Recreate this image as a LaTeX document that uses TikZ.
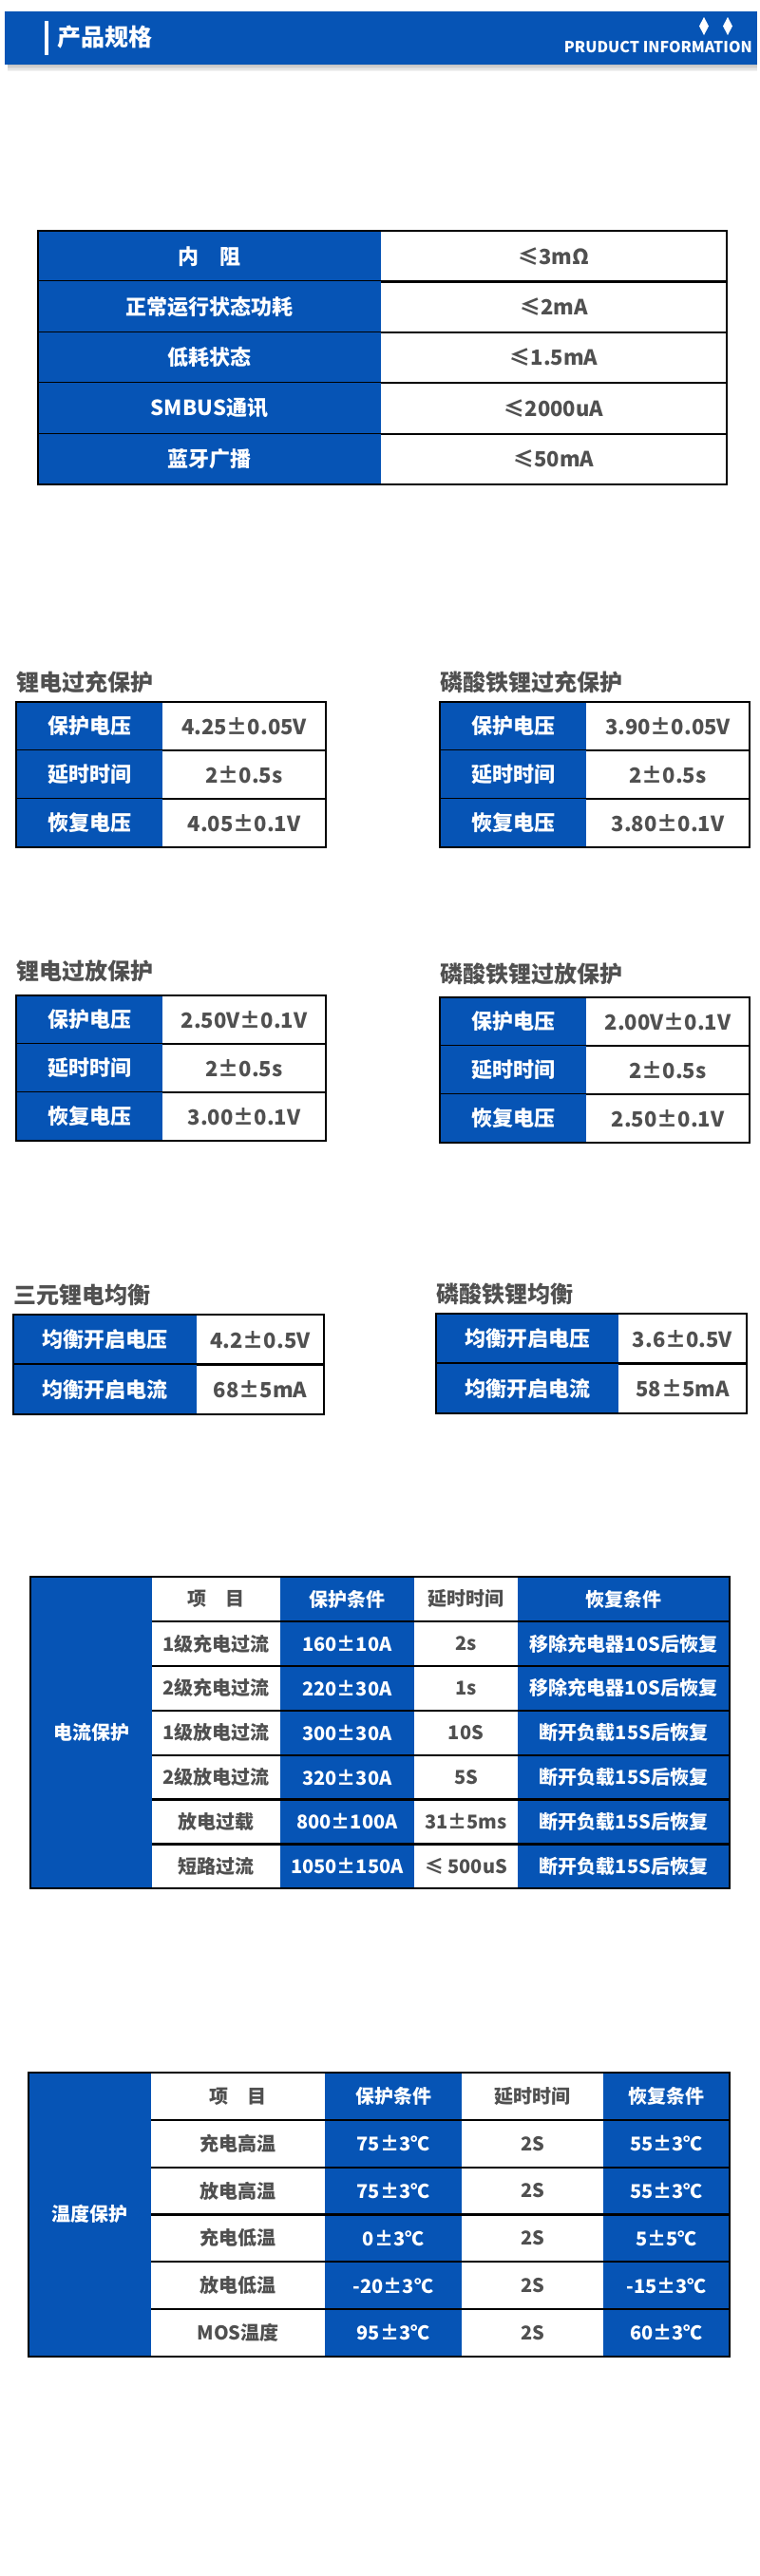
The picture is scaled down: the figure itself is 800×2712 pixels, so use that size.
\documentclass[tikz,border=0pt]{standalone}
\usepackage{fontspec}
\newfontfamily\cjk{Noto Sans CJK SC}
\usetikzlibrary{calc}
\definecolor{specblue}{HTML}{0654B5}
\definecolor{txtgray}{HTML}{505050}
\newcommand{\fs}[1]{\fontsize{#1pt}{#1pt}\selectfont}
% two column table: name, x left, x split, x right, y top, row height, label/value list
\newcommand{\pairtable}[7]{
	\foreach \lab/\val [count=\i] in {#7} {
		\fill[specblue] (#2, {#5+(\i-1)*#6}) rectangle (#3, {#5+\i*#6});
		\node[lab] (#1-l\i) at ({(#2+#3)/2}, {#5+(\i-0.5)*#6}) {\lab};
		\node[val] (#1-v\i) at ({(#3+#4)/2}, {#5+(\i-0.5)*#6}) {\val};
		\draw[rule] (#2, {#5+\i*#6}) -- (#4, {#5+\i*#6});
	}
}

\begin{document}
\begin{tikzpicture}[x=1pt, y=-1pt,
	lab/.style={font=\cjk\bfseries\fs{22}, text=white, inner sep=0},
	val/.style={font=\cjk\bfseries\fs{22}, text=txtgray, inner sep=0},
	small/.style={font=\cjk\bfseries\fs{20}, inner sep=0},
	caption/.style={font=\cjk\bfseries\fs{24}, text=txtgray, anchor=west, inner sep=0},
	rule/.style={line width=2.2pt, black},
	frame/.style={line width=2.2pt, black}]
	\useasboundingbox (0,0) rectangle (800,2712);
	\fill[white] (0,0) rectangle (800,2712);

	% header bar
	\foreach \k in {1,...,5}
		\fill[black, opacity=0.05] (8,68) rectangle (797,{68+\k*1.4});
	\fill[specblue] (5,12) rectangle (797,68);
	\fill[white] (47,22) rectangle (51,58);
	\node[font=\cjk\bfseries\fs{25}, text=white, anchor=west, inner sep=0] (title) at (60,39) {产品规格};
	\node[font=\cjk\bfseries\fs{16}, text=white, anchor=east, inner sep=0] (subtitle) at (792,50) {PRUDUCT INFORMATION};
	\fill[white] (741,18) -- (746,27.5) -- (741,37) -- (736,27.5) -- cycle;
	\fill[white] (766,18) -- (771,27.5) -- (766,37) -- (761,27.5) -- cycle;

	% main specs
	\pairtable{spec}{40}{401}{765}{243}{53.4}{内\quad 阻/≤3mΩ, 正常运行状态功耗/≤2mA, 低耗状态/≤1.5mA, SMBUS通讯/≤2000uA, 蓝牙广播/≤50mA}
	\draw[frame] (40,243) rectangle (765,510);

	% charge protection
	\node[caption] (c1) at (17,718) {锂电过充保护};
	\pairtable{lc}{17}{171}{343}{739}{51}{保护电压/4.25±0.05V, 延时时间/2±0.5s, 恢复电压/4.05±0.1V}
	\draw[frame] (17,739) rectangle (343,892);
	\node[caption] (c2) at (463,718) {磷酸铁锂过充保护};
	\pairtable{fc}{463}{617}{789}{739}{51}{保护电压/3.90±0.05V, 延时时间/2±0.5s, 恢复电压/3.80±0.1V}
	\draw[frame] (463,739) rectangle (789,892);

	% discharge protection
	\node[caption] (c3) at (17,1022) {锂电过放保护};
	\pairtable{ld}{17}{171}{343}{1048}{51}{保护电压/2.50V±0.1V, 延时时间/2±0.5s, 恢复电压/3.00±0.1V}
	\draw[frame] (17,1048) rectangle (343,1201);
	\node[caption] (c4) at (463,1025) {磷酸铁锂过放保护};
	\pairtable{fd}{463}{617}{789}{1050}{51}{保护电压/2.00V±0.1V, 延时时间/2±0.5s, 恢复电压/2.50±0.1V}
	\draw[frame] (463,1050) rectangle (789,1203);

	% balancing
	\node[caption] (c5) at (14,1363) {三元锂电均衡};
	\pairtable{lb}{14}{207}{341}{1384}{52.5}{均衡开启电压/4.2±0.5V, 均衡开启电流/68±5mA}
	\draw[frame] (14,1384) rectangle (341,1489);
	\node[caption] (c6) at (459,1362) {磷酸铁锂均衡};
	\pairtable{fb}{459}{651}{786}{1383}{52.5}{均衡开启电压/3.6±0.5V, 均衡开启电流/58±5mA}
	\draw[frame] (459,1383) rectangle (786,1488);

	% current protection
	\fill[specblue] (32,1660) rectangle (160,1988);
	\fill[specblue] (295,1660) rectangle (436,1988);
	\fill[specblue] (545,1660) rectangle (768,1988);
	\node[small, text=white] (cur) at (96,1824) {电流保护};
	\foreach \a/\b/\c/\d [count=\i] in {项\quad 目/保护条件/延时时间/恢复条件,
		1级充电过流/160±10A/2s/移除充电器10S后恢复,
		2级充电过流/220±30A/1s/移除充电器10S后恢复,
		1级放电过流/300±30A/10S/断开负载15S后恢复,
		2级放电过流/320±30A/5S/断开负载15S后恢复,
		放电过载/800±100A/31±5ms/断开负载15S后恢复,
		短路过流/1050±150A/≤ 500uS/断开负载15S后恢复} {
		\node[small, text=txtgray] (cur-a\i) at (227.5,{1660+(\i-0.5)*46.9}) {\a};
		\node[small, text=white] (cur-b\i) at (365.5,{1660+(\i-0.5)*46.9}) {\b};
		\node[small, text=txtgray] (cur-c\i) at (490.5,{1660+(\i-0.5)*46.9}) {\c};
		\node[small, text=white] (cur-d\i) at (656.5,{1660+(\i-0.5)*46.9}) {\d};
		\draw[rule] (160,{1660+\i*46.9}) -- (768,{1660+\i*46.9});
	}
	\draw[frame] (32,1660) rectangle (768,1988);

	% temperature protection
	\fill[specblue] (30,2182) rectangle (159,2481);
	\fill[specblue] (342,2182) rectangle (486,2481);
	\fill[specblue] (635,2182) rectangle (768,2481);
	\node[small, text=white] (tmp) at (94.5,2331) {温度保护};
	\foreach \a/\b/\c/\d [count=\i] in {项\quad 目/保护条件/延时时间/恢复条件,
		充电高温/75±3℃/2S/55±3℃,
		放电高温/75±3℃/2S/55±3℃,
		充电低温/0±3℃/2S/5±5℃,
		放电低温/-20±3℃/2S/-15±3℃,
		MOS温度/95±3℃/2S/60±3℃} {
		\node[small, text=txtgray] (tmp-a\i) at (250.5,{2182+(\i-0.5)*49.8}) {\a};
		\node[small, text=white] (tmp-b\i) at (414,{2182+(\i-0.5)*49.8}) {\b};
		\node[small, text=txtgray] (tmp-c\i) at (560.5,{2182+(\i-0.5)*49.8}) {\c};
		\node[small, text=white] (tmp-d\i) at (701.5,{2182+(\i-0.5)*49.8}) {\d};
		\draw[rule] (159,{2182+\i*49.8}) -- (768,{2182+\i*49.8});
	}
	\draw[frame] (30,2182) rectangle (768,2481);
\end{tikzpicture}
\end{document}
